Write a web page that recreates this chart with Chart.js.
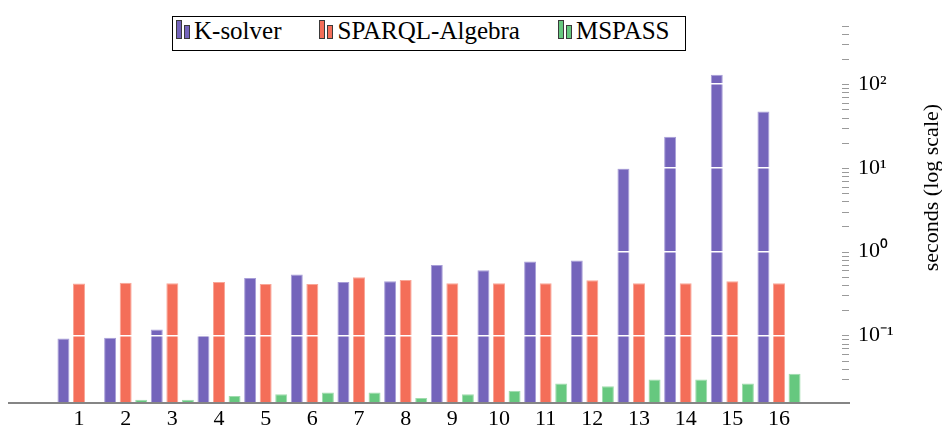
<!DOCTYPE html>
<html>
<head>
<meta charset="utf-8">
<script src="https://cdn.jsdelivr.net/npm/chart.js@4.4.0/dist/chart.umd.min.js"></script>
<style>
  html, body { margin: 0; padding: 0; background: #fff; }
  #wrap { position: relative; width: 942px; height: 426px; }
  #legend {
    position: absolute; top: 16px; left: 170px; height: 33px;
    border: 1px solid #000; background: #fff;
    padding: 0 15px 0 3px; white-space: nowrap;
    font-family: "Liberation Serif", "Times New Roman", serif;
    font-size: 25px; line-height: 27px; color: #000;
  }
  .item { display: inline-block; margin-right: 38px; }
  .item:last-child { margin-right: 0; }
  .icon { display: inline-block; position: relative; width: 14px; height: 19px; margin-right: 4px; }
  .icon span { position: absolute; bottom: 0; width: 6px; box-sizing: border-box; border: 1px solid #3a3a3a; }
</style>
</head>
<body>
<div id="wrap">
  <canvas id="chart"></canvas>
  <div id="legend"></div>
</div>
<script>
// --- Data ---
const categories = ['1', '2', '3', '4', '5', '6', '7', '8', '9', '10', '11', '12', '13', '14', '15', '16'];
const kSolver = [0.092, 0.094, 0.118, 0.102, 0.485, 0.535, 0.436, 0.445, 0.693, 0.601, 0.766, 0.786, 9.82, 23.5, 130, 47.2];
const sparqlAlgebra = [0.417, 0.425, 0.421, 0.436, 0.41, 0.41, 0.494, 0.46, 0.421, 0.421, 0.421, 0.456, 0.421, 0.421, 0.445, 0.421];
const mspass = [null, 0.0171, 0.017, 0.0189, 0.0199, 0.0208, 0.0208, 0.0179, 0.0199, 0.0219, 0.0267, 0.0248, 0.0297, 0.0297, 0.0267, 0.0349];
const seriesNames = ['K-solver', 'SPARQL-Algebra', 'MSPASS'];
const yTickValues = [0.1, 1, 10, 100];
const yTickLabels = ['10⁻¹', '10⁰', '10¹', '10²'];
const yTitle = 'seconds (log scale)';
const yMin = 0.0156;
const yMax = 550;

const fillColors = ['#7464bb', '#f46e59', '#66c87f'];
const edgeColors = ['#a89ed8', '#f9a697', '#9fdcad'];
const FONT = '"Liberation Serif", "Times New Roman", serif';

// one empty slot on each side, like the enlarged x limits of the original
const labels = ['', ...categories, ''];
const pad = arr => [null, ...arr, null];

const isPow10 = v => Math.abs(Math.log10(v) - Math.round(Math.log10(v))) < 1e-9;
const isWholeMantissa = v => {
    const m = v / Math.pow(10, Math.floor(Math.log10(v) + 1e-9));
    return Math.abs(m - Math.round(m)) < 1e-6;
};

// --- Plugins ---
// small tick marks pointing into the plot, on its right edge (1..9 x 10^n)
const innerTicks = {
    id: 'innerTicks',
    afterDraw(chart) {
        const { ctx, chartArea } = chart;
        const y = chart.scales.y;
        ctx.save();
        ctx.strokeStyle = '#9a9a9a';
        ctx.lineWidth = 1;
        (y.$tickValues || []).forEach(v => {
            const py = Math.round(y.getPixelForValue(v)) + 0.5;
            ctx.beginPath();
            ctx.moveTo(chartArea.right - 7, py);
            ctx.lineTo(chartArea.right, py);
            ctx.stroke();
        });
        ctx.restore();
    }
};

// axis title reads bottom-to-top on the right side
const rotatedTitle = {
    id: 'rotatedTitle',
    afterDraw(chart) {
        const { ctx, chartArea } = chart;
        ctx.save();
        ctx.translate(chart.width - 10, (chartArea.top + chartArea.bottom) / 2 - 25);
        ctx.rotate(-Math.PI / 2);
        ctx.font = '22px ' + FONT;
        ctx.fillStyle = '#000';
        ctx.textAlign = 'center';
        ctx.textBaseline = 'middle';
        ctx.fillText(yTitle, 0, 0);
        ctx.restore();
    }
};

const htmlLegend = {
    id: 'htmlLegend',
    afterUpdate(chart) {
        const box = document.getElementById('legend');
        box.innerHTML = '';
        const items = chart.options.plugins.legend.labels.generateLabels(chart);
        items.forEach(item => {
            const el = document.createElement('div');
            el.className = 'item';
            const icon = document.createElement('span');
            icon.className = 'icon';
            [[0, 19], [8, 14]].forEach(([left, h]) => {
                const b = document.createElement('span');
                b.style.left = left + 'px';
                b.style.height = h + 'px';
                b.style.background = item.fillStyle;
                icon.appendChild(b);
            });
            el.appendChild(icon);
            el.appendChild(document.createTextNode(item.text));
            box.appendChild(el);
        });
        const mid = (chart.chartArea.left + chart.chartArea.right) / 2;
        box.style.left = Math.round(mid - box.offsetWidth / 2) + 'px';
    }
};

// --- Chart ---
const datasets = [kSolver, sparqlAlgebra, mspass].map((values, i) => ({
    label: seriesNames[i],
    data: pad(values),
    backgroundColor: fillColors[i],
    borderColor: edgeColors[i],
    borderWidth: 1,
    categoryPercentage: 1.0,
    barPercentage: 0.77
}));

new Chart(document.getElementById('chart'), {
    type: 'bar',
    data: { labels, datasets },
    options: {
        responsive: true,
        maintainAspectRatio: false,
        animation: false,
        layout: { padding: { left: 9, top: 12, right: 0, bottom: 0 } },
        plugins: {
            legend: { display: false },
            tooltip: { enabled: false }
        },
        scales: {
            x: {
                type: 'category',
                grid: { display: false, drawTicks: false },
                border: { display: true, color: '#858585', width: 2, z: 1 },
                ticks: {
                    color: '#000', font: { family: FONT, size: 22 },
                    padding: 3, autoSkip: false, maxRotation: 0
                },
                afterFit: scale => { scale.height = 23; }
            },
            y: {
                type: 'logarithmic',
                position: 'right',
                min: yMin,
                max: yMax,
                border: { display: false },
                grid: {
                    z: 1,
                    drawTicks: false,
                    lineWidth: 1.5,
                    color: c => (c.tick && isPow10(c.tick.value)) ? '#ffffff' : 'rgba(0,0,0,0)'
                },
                afterBuildTicks: scale => {
                    scale.ticks = scale.ticks.filter(t => isWholeMantissa(t.value));
                    scale.$tickValues = scale.ticks.map(t => t.value);
                },
                ticks: {
                    autoSkip: false,
                    padding: 9,
                    color: '#000',
                    font: { family: FONT, size: 22 },
                    callback: v => {
                        const k = yTickValues.findIndex(t => Math.abs(t - v) < t * 1e-6);
                        return k >= 0 ? yTickLabels[k] : null;
                    }
                },
                afterFit: scale => { scale.width = 93; }
            }
        }
    },
    plugins: [innerTicks, rotatedTitle, htmlLegend]
});
</script>
</body>
</html>
